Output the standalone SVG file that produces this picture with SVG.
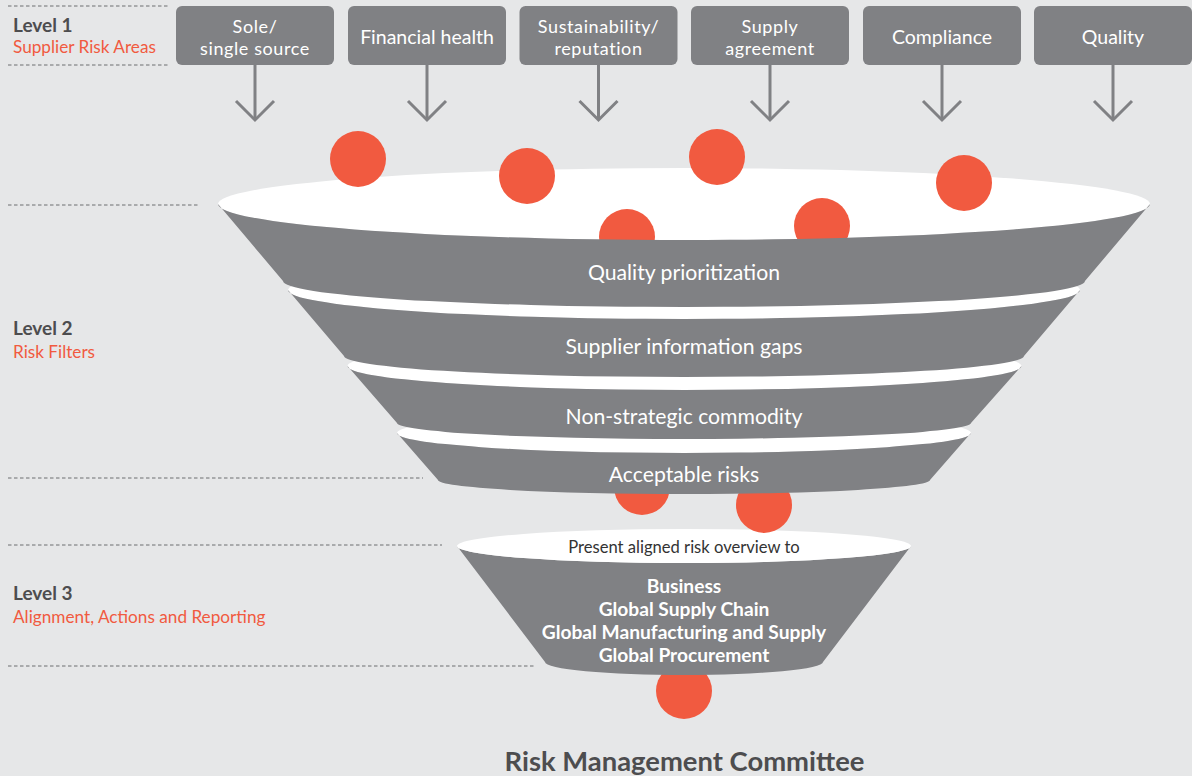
<svg xmlns="http://www.w3.org/2000/svg" width="1192" height="776" viewBox="0 0 1192 776">
<style>
.bg{fill:#e6e7e8}
.box{fill:#808184}
.grey{fill:#808184}
.white{fill:#ffffff}
.dot{fill:#f15a40}
.dash{stroke:#6d6e71;stroke-width:1;stroke-dasharray:3.5 2.5;fill:none}
.arrow{stroke:#808184;stroke-width:3;fill:none}
.bt{font-family:Lato,"Open Sans",sans-serif;font-size:19.5px;fill:#ffffff;text-anchor:middle}
.bt2{font-family:Lato,"Open Sans",sans-serif;font-size:18px;letter-spacing:0.6px;fill:#ffffff;text-anchor:middle}
.lv{font-family:Lato,"Open Sans",sans-serif;font-size:19px;font-weight:bold;fill:#4d4d4f}
.sub{font-family:Lato,"Open Sans",sans-serif;font-size:17.2px;fill:#f15a40}
.lt{font-family:Lato,"Open Sans",sans-serif;font-size:21.2px;fill:#ffffff;text-anchor:middle}
.pt{font-family:Lato,"Open Sans",sans-serif;font-size:16.6px;fill:#333333;text-anchor:middle}
.bw{font-family:Lato,"Open Sans",sans-serif;font-size:19.2px;font-weight:bold;fill:#ffffff;text-anchor:middle}
.rmc{font-family:Lato,"Open Sans",sans-serif;font-size:27.4px;font-weight:bold;fill:#4d4d4f;text-anchor:middle}
</style>
<rect class="bg" x="0" y="0" width="1192" height="776"/>

<g id="guides">
<line class="dash" x1="8" y1="6" x2="168" y2="6"/>
<line class="dash" x1="8" y1="65" x2="168" y2="65"/>
<line class="dash" x1="8" y1="205" x2="200" y2="205"/>
<line class="dash" x1="8" y1="478" x2="423" y2="478"/>
<line class="dash" x1="8" y1="545" x2="442" y2="545"/>
<line class="dash" x1="8" y1="666" x2="536" y2="666"/>
</g>

<g id="level-labels">
<text class="lv" x="13" y="32">Level 1</text>
<text class="sub" x="13" y="53">Supplier Risk Areas</text>
<text class="lv" x="13" y="335">Level 2</text>
<text class="sub" x="13" y="358">Risk Filters</text>
<text class="lv" x="13" y="600">Level 3</text>
<text class="sub" x="13" y="623">Alignment, Actions and Reporting</text>
</g>

<g id="connectors">
<line class="arrow" x1="255" y1="65" x2="255" y2="119"/>
<polyline class="arrow" points="236,101 255,120 274,101"/>
<line class="arrow" x1="427" y1="65" x2="427" y2="119"/>
<polyline class="arrow" points="408,101 427,120 446,101"/>
<line class="arrow" x1="598.5" y1="65" x2="598.5" y2="119"/>
<polyline class="arrow" points="579.5,101 598.5,120 617.5,101"/>
<line class="arrow" x1="770" y1="65" x2="770" y2="119"/>
<polyline class="arrow" points="751,101 770,120 789,101"/>
<line class="arrow" x1="942" y1="65" x2="942" y2="119"/>
<polyline class="arrow" points="923,101 942,120 961,101"/>
<line class="arrow" x1="1113" y1="65" x2="1113" y2="119"/>
<polyline class="arrow" points="1094,101 1113,120 1132,101"/>
</g>

<g id="box-sole">
<rect class="box" x="176" y="6" width="158" height="59" rx="6"/>
<text class="bt2"><tspan x="255" y="32.5">Sole/</tspan><tspan x="255" y="54.5">single source</tspan></text>
</g>
<g id="box-financial">
<rect class="box" x="348" y="6" width="158" height="59" rx="6"/>
<text class="bt" x="427" y="44">Financial health</text>
</g>
<g id="box-sustainability">
<rect class="box" x="519.5" y="6" width="158" height="59" rx="6"/>
<text class="bt2"><tspan x="598.5" y="32.5">Sustainability/</tspan><tspan x="598.5" y="54.5">reputation</tspan></text>
</g>
<g id="box-supply">
<rect class="box" x="691" y="6" width="158" height="59" rx="6"/>
<text class="bt2"><tspan x="770" y="32.5">Supply</tspan><tspan x="770" y="54.5">agreement</tspan></text>
</g>
<g id="box-compliance">
<rect class="box" x="863" y="6" width="158" height="59" rx="6"/>
<text class="bt" x="942" y="44">Compliance</text>
</g>
<g id="box-quality">
<rect class="box" x="1034" y="6" width="158" height="59" rx="6"/>
<text class="bt" x="1113" y="44">Quality</text>
</g>

<g id="level3-funnel">
<circle class="dot" cx="684" cy="691" r="28"/>
<path class="grey" d="M457,546 A227,17 0 0 0 911,546 L823,662 A139,13 0 0 1 545,662 Z"/>
<ellipse class="white" cx="684" cy="546" rx="227" ry="17"/>
<text class="pt" x="684" y="553">Present aligned risk overview to</text>
<text class="bw"><tspan x="684" y="593">Business</tspan><tspan x="684" y="616">Global Supply Chain</tspan><tspan x="684" y="639">Global Manufacturing and Supply</tspan><tspan x="684" y="662">Global Procurement</tspan></text>
</g>

<g id="falling-risks">
<circle class="dot" cx="642" cy="487" r="28"/>
<circle class="dot" cx="764" cy="505" r="28"/>
</g>

<g id="filter-acceptable">
<ellipse class="white" cx="684" cy="433" rx="287" ry="20"/>
<path class="grey" d="M397,433 A287,20 0 0 0 971,433 L930,480 A246,14 0 0 1 438,480 Z"/>
<text class="lt" x="684" y="482">Acceptable risks</text>
</g>

<g id="filter-nonstrategic">
<ellipse class="white" cx="684.5" cy="366" rx="337" ry="24"/>
<path class="grey" d="M347.5,366 A337,24 0 0 0 1021.5,366 L971,423 A287,16 0 0 1 397,423 Z"/>
<text class="lt" x="684" y="424">Non-strategic commodity</text>
</g>

<g id="filter-gaps">
<ellipse class="white" cx="684" cy="290" rx="396" ry="29"/>
<path class="grey" d="M288,290 A396,29 0 0 0 1080,290 L1024,356 A340,21 0 0 1 344,356 Z"/>
<text class="lt" x="684" y="354">Supplier information gaps</text>
</g>

<g id="filter-quality">
<ellipse class="white" cx="684" cy="204" rx="466" ry="36"/>
<circle class="dot" cx="358" cy="159" r="28"/>
<circle class="dot" cx="527" cy="176" r="28"/>
<circle class="dot" cx="717" cy="157" r="28"/>
<circle class="dot" cx="964" cy="183" r="28"/>
<circle class="dot" cx="627" cy="237" r="28"/>
<circle class="dot" cx="822" cy="226" r="28"/>
<path class="grey" d="M218,204 A466,36 0 0 0 1150,204 L1085,281 A401,26 0 0 1 283,281 Z"/>
<text class="lt" x="684" y="280">Quality prioritization</text>
</g>

<g id="committee">
<text class="rmc" x="684.5" y="771">Risk Management Committee</text>
</g>
</svg>
